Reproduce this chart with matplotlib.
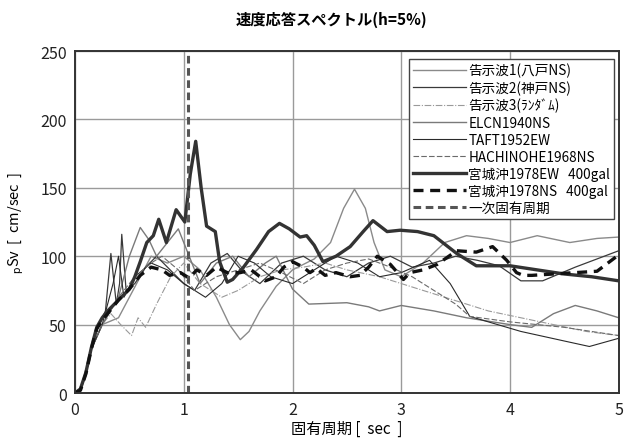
import matplotlib
matplotlib.use("Agg")
import matplotlib.pyplot as plt

plt.rcParams['font.family'] = ['Noto Sans CJK JP', 'DejaVu Sans']

# ---- data ----
t_ew = [0, 0.05, 0.1, 0.15, 0.2, 0.25, 0.3, 0.35, 0.4, 0.45, 0.5, 0.55, 0.6, 0.66, 0.72, 0.77, 0.84, 0.93,
        1.01, 1.06, 1.11, 1.16, 1.21, 1.29, 1.33, 1.4, 1.45, 1.55, 1.67, 1.78, 1.88, 1.97, 2.07, 2.13, 2.2,
        2.28, 2.4, 2.53, 2.65, 2.74, 2.87, 2.99, 3.15, 3.3, 3.51, 3.69, 3.85, 4.0, 4.25, 4.5, 4.75, 5.0]
v_ew = [0, 3, 15, 33, 48, 55, 60, 64, 68, 72, 76, 85, 96, 110, 115, 127, 110, 134,
        125, 160, 184, 150, 122, 118, 96, 81, 83, 92, 105, 118, 124, 120, 114, 115, 108,
        96, 100, 107, 118, 126, 118, 119, 118, 115, 102, 93, 93, 93, 90, 87, 85, 82]

t_ns = [0, 0.05, 0.1, 0.15, 0.2, 0.25, 0.3, 0.4, 0.5, 0.6, 0.7, 0.8, 0.87, 0.97, 1.05, 1.12, 1.21, 1.3, 1.4,
        1.52, 1.62, 1.75, 1.85, 1.92, 2.0, 2.1, 2.16, 2.22, 2.3, 2.4, 2.53, 2.62, 2.7, 2.78, 2.9, 3.02, 3.08,
        3.2, 3.33, 3.51, 3.69, 3.84, 3.97, 4.06, 4.12, 4.2, 4.4, 4.6, 4.8, 4.95, 5.0]
v_ns = [0, 2, 14, 32, 47, 53, 58, 68, 76, 86, 92, 90, 86, 88, 84, 90, 86, 92, 88,
        88, 90, 82, 85, 92, 96, 92, 88, 91, 86, 88, 85, 86, 92, 100, 94, 83, 88,
        90, 94, 104, 103, 107, 97, 88, 86, 86, 87, 88, 89, 98, 101]

t_k1 = [0, 0.05, 0.1, 0.15, 0.25, 0.4, 0.5, 0.6, 0.7, 0.85, 1.0, 1.15, 1.3, 1.42, 1.52, 1.6, 1.7, 1.85, 2.0,
        2.2, 2.35, 2.47, 2.57, 2.67, 2.75, 2.85, 3.0, 3.2, 3.4, 3.6, 3.8, 4.0, 4.25, 4.55, 4.8, 5.0]
v_k1 = [0, 2, 14, 32, 50, 55, 70, 85, 100, 95, 100, 90, 70, 50, 39, 45, 60, 78, 90,
        98, 110, 135, 149, 135, 110, 90, 85, 95, 110, 115, 113, 110, 115, 110, 113, 114]

t_k2 = [0, 0.05, 0.1, 0.15, 0.22, 0.28, 0.33, 0.38, 0.41, 0.43, 0.47, 0.55, 0.65, 0.75, 0.9, 1.0, 1.1, 1.25,
        1.4, 1.55, 1.7, 1.9, 2.1, 2.3, 2.5, 2.7, 2.9, 3.1, 3.3, 3.5, 3.7, 3.9, 4.1, 4.3, 4.6, 5.0]
v_k2 = [0, 2, 14, 32, 50, 60, 102, 65, 80, 116, 75, 80, 92, 100, 88, 80, 75, 95,
        102, 88, 80, 95, 100, 90, 85, 95, 100, 92, 95, 100, 97, 93, 82, 82, 92, 104]

t_k3 = [0, 0.05, 0.1, 0.15, 0.25, 0.33, 0.42, 0.52, 0.58, 0.65, 0.75, 0.88, 1.0, 1.15, 1.35, 1.5, 1.7, 1.9,
        2.1, 2.3, 2.5, 2.8, 3.0, 3.2, 3.4, 3.6, 3.8, 4.1, 4.4, 4.7, 5.0]
v_k3 = [0, 2, 14, 32, 50, 58, 50, 42, 55, 48, 65, 85, 95, 80, 70, 75, 85, 90,
        92, 95, 90, 85, 80, 75, 70, 65, 60, 55, 50, 45, 42]

t_el = [0, 0.05, 0.1, 0.15, 0.25, 0.4, 0.5, 0.6, 0.68, 0.75, 0.85, 0.95, 1.05, 1.15, 1.3, 1.45, 1.6, 1.75,
        1.85, 2.0, 2.15, 2.5, 2.7, 2.8, 3.0, 3.3, 3.6, 4.0, 4.2, 4.4, 4.6, 4.8, 5.0]
v_el = [0, 2, 14, 32, 50, 70, 100, 121, 112, 100, 110, 120, 100, 80, 95, 100, 85, 95,
        100, 76, 65, 66, 63, 60, 64, 60, 55, 50, 48, 58, 64, 60, 55]

t_tf = [0, 0.05, 0.1, 0.15, 0.25, 0.35, 0.4, 0.45, 0.55, 0.7, 0.85, 1.0, 1.2, 1.35, 1.5, 1.65, 1.8, 2.0,
        2.2, 2.4, 2.6, 2.8, 3.0, 3.26, 3.45, 3.63, 4.1, 4.5, 4.73, 5.0]
v_tf = [0, 2, 14, 32, 50, 80, 100, 70, 85, 95, 90, 80, 70, 80, 100, 95, 85, 80,
        90, 100, 95, 85, 88, 97, 80, 56, 45, 38, 34, 40]

t_ha = [0, 0.05, 0.1, 0.15, 0.25, 0.4, 0.55, 0.7, 0.8, 0.95, 1.1, 1.3, 1.5, 1.7, 1.9, 2.1, 2.3, 2.5, 2.7,
        2.9, 3.1, 3.3, 3.5, 3.63, 4.0, 4.5, 5.0]
v_ha = [0, 2, 14, 32, 50, 70, 85, 95, 100, 90, 75, 85, 90, 95, 88, 80, 90, 95, 98,
        92, 85, 75, 65, 56, 52, 48, 42]

t_first = 1.04

labels = ['告示波1(八戸NS)', '告示波2(神戸NS)', '告示波3(ﾗﾝﾀﾞﾑ)', 'ELCN1940NS', 'TAFT1952EW',
          'HACHINOHE1968NS', '宮城沖1978EW   400gal', '宮城沖1978NS   400gal', '一次固有周期']

# ---- figure ----
fig = plt.figure(figsize=(6.25, 4.39), dpi=100)
ax = fig.add_axes([0.12, 0.1025, 0.87, 0.779])

ax.plot(t_k1, v_k1, color='#8a8a8a', lw=1.0, label=labels[0])
ax.plot(t_k2, v_k2, color='#3a3a3a', lw=0.9, label=labels[1])
ax.plot(t_k3, v_k3, color='#9a9a9a', lw=0.8, ls=(0, (6, 1.5, 1, 1.5)), label=labels[2])
ax.plot(t_el, v_el, color='#7a7a7a', lw=1.0, label=labels[3])
ax.plot(t_tf, v_tf, color='#2a2a2a', lw=0.8, label=labels[4])
ax.plot(t_ha, v_ha, color='#6a6a6a', lw=0.8, ls=(0, (5, 2)), label=labels[5])
ax.plot(t_ew, v_ew, color='#333333', lw=2.4, label=labels[6])
ax.plot(t_ns, v_ns, color='#111111', lw=2.4, ls=(0, (3, 2)), label=labels[7])
ax.axvline(t_first, color='#555555', lw=2.2, ls=(0, (2.5, 1.5)), label=labels[8])

ax.set_xlim(0, 5)
ax.set_ylim(0, 250)
ax.set_xticks(range(0, 6))
ax.set_yticks(range(0, 251, 50))
ax.grid(True, color='#9a9a9a', lw=1.0)
ax.set_axisbelow(True)
for s in ax.spines.values():
    s.set_color('#333333')
    s.set_linewidth(1.4)
ax.tick_params(length=0, labelsize=11.5, pad=6, colors='#222222')

ax.set_xlabel('固有周期 [  sec  ]', fontsize=11, labelpad=1)
ax.set_ylabel(r'$_{\mathrm{p}}$Sv  [  cm/sec  ]', fontsize=10.5, labelpad=10)

fig.text(0.53, 1 - 20 / 439, '速度応答スペクトル(h=5%)', ha='center', va='center',
         fontsize=11, fontweight='bold')

leg = ax.legend(loc='upper right', bbox_to_anchor=(0.997, 0.985), fontsize=9.8, frameon=True,
                fancybox=False, framealpha=1, edgecolor='#444444', handlelength=3.9,
                handletextpad=0.2, labelspacing=0.22, borderpad=0.3, borderaxespad=0.2)
leg.get_frame().set_linewidth(1.0)

fig.savefig('out.png', dpi=100)
